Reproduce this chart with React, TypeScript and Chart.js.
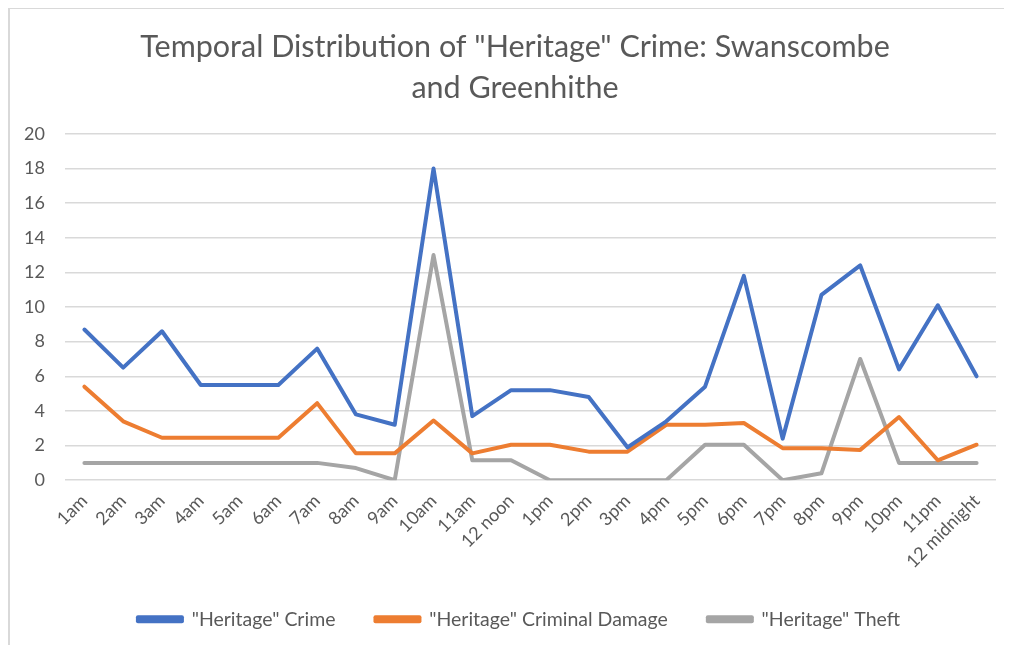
import React, { useEffect, useRef } from "react";
import { Chart, registerables } from "chart.js";

Chart.register(...registerables);

const hours = [
  "1am", "2am", "3am", "4am", "5am", "6am", "7am", "8am", "9am", "10am", "11am", "12 noon",
  "1pm", "2pm", "3pm", "4pm", "5pm", "6pm", "7pm", "8pm", "9pm", "10pm", "11pm", "12 midnight",
];

const heritageCrime = [8.7, 6.5, 8.6, 5.5, 5.5, 5.5, 7.6, 3.8, 3.2, 18, 3.7, 5.2, 5.2, 4.8, 1.9, 3.4, 5.4, 11.8, 2.4, 10.7, 12.4, 6.4, 10.1, 6.0];
const heritageDamage = [5.4, 3.4, 2.45, 2.45, 2.45, 2.45, 4.45, 1.55, 1.55, 3.45, 1.55, 2.05, 2.05, 1.65, 1.65, 3.2, 3.2, 3.3, 1.85, 1.85, 1.75, 3.65, 1.15, 2.05];
const heritageTheft = [1, 1, 1, 1, 1, 1, 1, 0.7, 0, 13, 1.15, 1.15, 0, 0, 0, 0, 2.05, 2.05, 0, 0.4, 7, 1, 1, 1];

const titleLines = ['Temporal Distribution of "Heritage" Crime: Swanscombe', "and Greenhithe"];

const FONT = "Lato, 'Open Sans', sans-serif";
const TEXT = "#595959";

// Nudge the title and legend boxes to the right after layout so they sit centred
// on the full chart frame rather than on the padded canvas.
const centreBoxes = {
  id: "centreBoxes",
  afterLayout(chart: any) {
    const t = chart.titleBlock;
    if (t) {
      t.left += 12;
      t.right += 12;
    }
    const l = chart.legend;
    if (l) {
      l.left += 16;
      l.right += 16;
    }
  },
};

export default function App() {
  const canvasRef = useRef<HTMLCanvasElement | null>(null);

  useEffect(() => {
    const canvas = canvasRef.current;
    if (!canvas) return;
    const chart = new Chart(canvas, {
      type: "line",
      data: {
        labels: hours,
        datasets: [
          { label: '"Heritage" Crime', data: heritageCrime, borderColor: "#4472C4", backgroundColor: "#4472C4" },
          { label: '"Heritage" Criminal Damage', data: heritageDamage, borderColor: "#ED7D31", backgroundColor: "#ED7D31" },
          { label: '"Heritage" Theft', data: heritageTheft, borderColor: "#A5A5A5", backgroundColor: "#A5A5A5" },
        ],
      },
      plugins: [centreBoxes],
      options: {
        responsive: false,
        animation: false,
        devicePixelRatio: 1,
        elements: {
          line: { borderWidth: 4, tension: 0, borderJoinStyle: "round", borderCapStyle: "round" },
          point: { radius: 0, hoverRadius: 0 },
        },
        layout: { padding: { left: 0, right: 16, top: 0, bottom: 6 } },
        plugins: {
          title: {
            display: true,
            text: titleLines,
            color: TEXT,
            font: { family: FONT, size: 30.5, weight: "normal", lineHeight: 1.35 },
            padding: { top: 17.5, bottom: 25 },
          },
          legend: {
            position: "bottom",
            labels: {
              color: TEXT,
              font: { family: FONT, size: 19.5 },
              boxWidth: 44,
              boxHeight: 4,
              padding: 40,
            },
          },
          tooltip: { enabled: false },
        },
        scales: {
          x: {
            offset: true,
            grid: { display: false },
            border: { display: false },
            ticks: {
              color: TEXT,
              font: { family: FONT, size: 18 },
              minRotation: 45,
              maxRotation: 45,
              autoSkip: false,
              padding: 2,
            },
            afterFit: (scale: any) => {
              scale.height = scale.height - 5;
            },
          },
          y: {
            min: 0,
            max: 20,
            grid: { color: "#d9d9d9", lineWidth: 1.5, drawTicks: false },
            border: { display: false },
            ticks: {
              stepSize: 2,
              color: TEXT,
              font: { family: FONT, size: 18 },
              padding: 20,
            },
            afterFit: (scale: any) => {
              scale.width = 55;
            },
          },
        },
      },
    });
    return () => chart.destroy();
  }, []);

  return (
    <div
      style={{
        width: 1004,
        height: 638,
        borderTop: "2px solid #d9d9d9",
        borderLeft: "2px solid #d9d9d9",
        boxSizing: "border-box",
        marginTop: -1,
        background: "#fff",
        overflow: "hidden",
      }}
    >
      <canvas ref={canvasRef} width={1002} height={636} style={{ display: "block" }} />
    </div>
  );
}
